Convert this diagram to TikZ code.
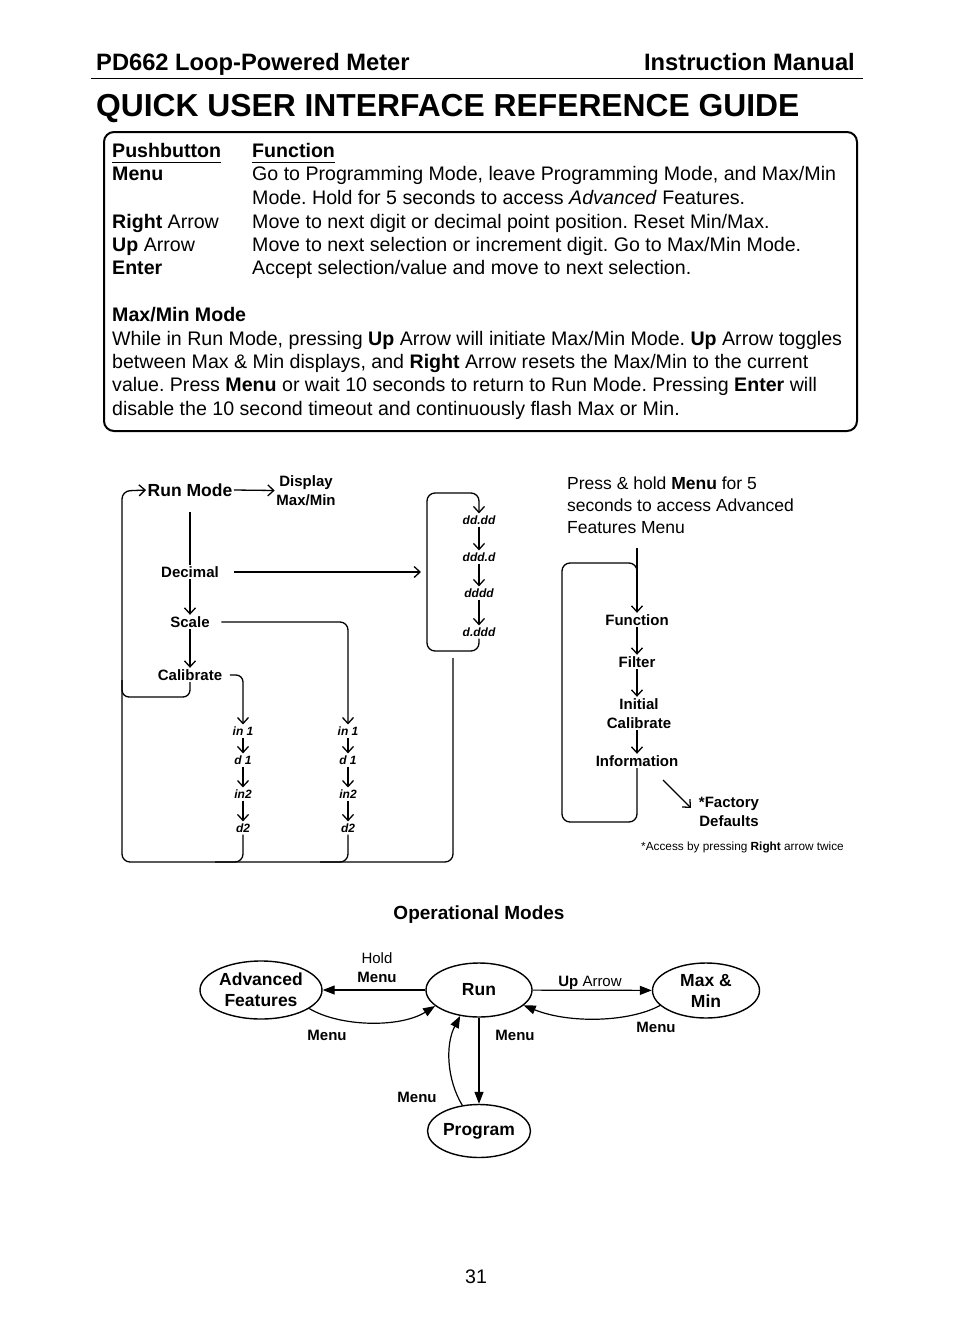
\documentclass[tikz,border=0pt]{standalone}
\usepackage{fontspec}
\setmainfont{Liberation Sans}
\usetikzlibrary{arrows.meta,shapes.geometric}
\frenchspacing
\begin{document}
\begin{tikzpicture}[x=1pt,y=-1pt,
  txt/.style={font=\fontsize{19.6}{23.5}\selectfont, inner sep=0pt, anchor=base west},
  lbl/.style={font=\bfseries\fontsize{15}{19}\selectfont, inner sep=1.5pt, align=center},
  seg/.style={font=\bfseries\itshape\fontsize{12}{14}\selectfont, inner sep=2pt},
  ln/.style={line width=1.3pt},
  arr/.style={ln, -{Straight Barb[length=6pt,width=11pt]}},
  tri/.style={line width=1.2pt, -{Triangle[length=12pt,width=9pt]}},
  el/.style={ellipse, draw, line width=1.4pt, inner sep=0pt, align=center,
             font=\bfseries\fontsize{17.5}{21}\selectfont},
  elab/.style={font=\bfseries\fontsize{15}{19}\selectfont, inner sep=0pt, align=center}
]
\fill[white] (0,0) rectangle (954,1336);
\useasboundingbox (0,0) rectangle (954,1336);

% ---------- header ----------
\node[font=\bfseries\fontsize{23.7}{28}\selectfont, inner sep=0pt, anchor=base west] (hl) at (96,70) {PD662 Loop-Powered Meter};
\node[font=\bfseries\fontsize{23.7}{28}\selectfont, inner sep=0pt, anchor=base east] (hr) at (855,70) {Instruction Manual};
\draw[line width=1pt] (91,78) -- (863,78);
\node[font=\bfseries\fontsize{31.8}{36}\selectfont, inner sep=0pt, anchor=base west] (title) at (96,116) {QUICK USER INTERFACE REFERENCE GUIDE};

% ---------- box ----------
\draw[line width=2pt, rounded corners=10pt] (104,132) rectangle (857,431);
\node[txt] (pb) at (112,157) {\underline{\textbf{Pushbutton}\vphantom{p}}};
\node[txt] (fn) at (252,157) {\underline{\textbf{Function}\vphantom{p}}};
\node[txt] (k1) at (112,180) {\textbf{Menu}};
\node[txt] (t1) at (252,180) {Go to Programming Mode, leave Programming Mode, and Max/Min};
\node[txt] (t1b) at (252,204) {Mode. Hold for 5 seconds to access \textit{Advanced} Features.};
\node[txt] (k2) at (112,228) {\textbf{Right} Arrow};
\node[txt] (t2) at (252,228) {Move to next digit or decimal point position. Reset Min/Max.};
\node[txt] (k3) at (112,251) {\textbf{Up} Arrow};
\node[txt] (t3) at (252,251) {Move to next selection or increment digit. Go to Max/Min Mode.};
\node[txt] (k4) at (112,274) {\textbf{Enter}};
\node[txt] (t4) at (252,274) {Accept selection/value and move to next selection.};
\node[txt] (mm) at (112,321) {\textbf{Max/Min Mode}};
\node[txt] (p1) at (112,345) {While in Run Mode, pressing \textbf{Up} Arrow will initiate Max/Min Mode. \textbf{Up} Arrow toggles};
\node[txt] (p2) at (112,368) {between Max \& Min displays, and \textbf{Right} Arrow resets the Max/Min to the current};
\node[txt] (p3) at (112,391) {value. Press \textbf{Menu} or wait 10 seconds to return to Run Mode. Pressing \textbf{Enter} will};
\node[txt] (p4) at (112,415) {disable the 10 second timeout and continuously flash Max or Min.};

% ---------- left programming diagram ----------
\node[font=\bfseries\fontsize{17.5}{20}\selectfont, inner sep=1.5pt] (runmode) at (190,490) {Run Mode};
\node[lbl] (display) at (306,490.5) {Display\\Max/Min};
\draw[arr] (runmode.east) -- (display.west);

\node[lbl] (decimal) at (190,572) {Decimal};
\node[lbl] (scale) at (190,622) {Scale};
\node[lbl] (calib) at (190,675) {Calibrate};
\draw[ln] ([yshift=-14pt]runmode.south) -- (decimal.north);
\draw[arr] (decimal) -- (scale);
\draw[arr] (scale) -- (calib);

% display loop
\node[seg] (dd1) at (479,520) {dd.dd};
\node[seg] (dd2) at (479,557) {ddd.d};
\node[seg] (dd3) at (479,593) {dddd};
\node[seg] (dd4) at (479,632) {d.ddd};
\draw[arr] (dd1) -- (dd2);
\draw[arr] (dd2) -- (dd3);
\draw[arr] (dd3) -- (dd4);
\draw[arr, rounded corners=8pt] (dd4.south) -- (479,651) -- (427,651) -- (427,493) -- (479,493) -- (dd1.north);
\coordinate (dloop) at (427,572);
\draw[arr, shorten >=6pt] ([xshift=14pt]decimal.east) -- (dloop);

% scale column
\node[seg] (m1) at (348,731) {in 1};
\node[seg] (m2) at (348,760) {d 1};
\node[seg] (m3) at (348,794) {in2};
\node[seg] (m4) at (348,828) {d2};
\draw[arr, rounded corners=8pt] ([xshift=10pt]scale.east) -| (m1.north);
\draw[arr] (m1) -- (m2);
\draw[arr] (m2) -- (m3);
\draw[arr] (m3) -- (m4);

% calibrate column
\node[seg] (l1) at (243,731) {in 1};
\node[seg] (l2) at (243,760) {d 1};
\node[seg] (l3) at (243,794) {in2};
\node[seg] (l4) at (243,828) {d2};
\draw[arr, rounded corners=7pt] ([xshift=6pt]calib.east) -| (l1.north);
\draw[arr] (l1) -- (l2);
\draw[arr] (l2) -- (l3);
\draw[arr] (l3) -- (l4);

% returns
\draw[ln, rounded corners=8pt] (l4.south) -- (243,862) -- (215,862);
\draw[ln, rounded corners=8pt] (m4.south) -- (348,862) -- (320,862);
\draw[arr, rounded corners=8pt] (453,658) -- (453,862) -- (122,862) -- (122,491) -- (runmode.west);
\draw[ln, rounded corners=7pt] (calib.south) -- (190,697) -- (122,697) -- (122,680);

% ---------- right advanced diagram ----------
\node[font=\fontsize{17.5}{22}\selectfont, inner sep=0pt, anchor=base west] (pr1) at (567,489) {Press \& hold \textbf{Menu} for 5};
\node[font=\fontsize{17.5}{22}\selectfont, inner sep=0pt, anchor=base west] (pr2) at (567,511) {seconds to access Advanced};
\node[font=\fontsize{17.5}{22}\selectfont, inner sep=0pt, anchor=base west] (pr3) at (567,533) {Features Menu};

\node[lbl] (func) at (637,620) {Function};
\node[lbl] (filter) at (637,662) {Filter};
\node[lbl] (initcal) at (639,713.5) {Initial\\Calibrate};
\node[lbl] (info) at (637,761) {Information};
\coordinate (ptop) at (637,548);
\draw[arr] (ptop) -- (func);
\draw[arr] (func) -- (filter);
\draw[arr] (filter) -- (filter |- initcal.north);
\draw[arr] (info |- initcal.south) -- (info);
\draw[ln, rounded corners=8pt] (info.south) -- (637,822) -- (562,822) -- (562,563) -- (637,563) -- (637,578);

\node[lbl] (factory) at (729,811.5) {*Factory\\Defaults};
\coordinate (dgs) at (663,780);
\coordinate (dge) at (691,808);
\draw[arr] (dgs) -- (dge);
\node[font=\fontsize{11.8}{14}\selectfont, inner sep=0pt, anchor=base] (access) at (742.5,850) {*Access by pressing \textbf{Right} arrow twice};

% ---------- operational modes ----------
\node[font=\bfseries\fontsize{19}{23}\selectfont, inner sep=0pt, anchor=base] (opm) at (479,919) {Operational Modes};

\node[el, minimum width=122pt, minimum height=58pt] (adv) at (261,990) {Advanced\\Features};
\node[el, minimum width=106pt, minimum height=54pt] (run) at (479,990) {Run};
\node[el, minimum width=107pt, minimum height=55pt] (max) at (706,990.5) {Max \&\\Min};
\node[el, minimum width=103pt, minimum height=53pt] (prog) at (479,1131) {Program};

\draw[tri] (run) -- (adv);
\draw[tri] (run) -- (max);
\draw[tri] (run) -- (prog);
\draw[tri] (adv.-21) .. controls (340,1027) and (400,1028) .. (run.-160);
\draw[tri] (max.-162) .. controls (630,1022) and (570,1024) .. (run.-19);
\draw[tri] (prog.123) .. controls (447,1080) and (445,1045) .. (run.-126);

\node[elab] (lhold) at (377,967.5) {\mdseries Hold\\Menu};
\node[elab] (lup) at (590,983) {Up \mdseries Arrow};
\node[elab] (lm1) at (327,1035) {Menu};
\node[elab] (lm2) at (515,1035) {Menu};
\node[elab] (lm3) at (656,1027) {Menu};
\node[elab] (lm4) at (417,1097) {Menu};

% ---------- page number ----------
\node[font=\fontsize{19.6}{23}\selectfont, inner sep=0pt, anchor=base] (pg) at (476,1283) {31};
\end{tikzpicture}
\end{document}
